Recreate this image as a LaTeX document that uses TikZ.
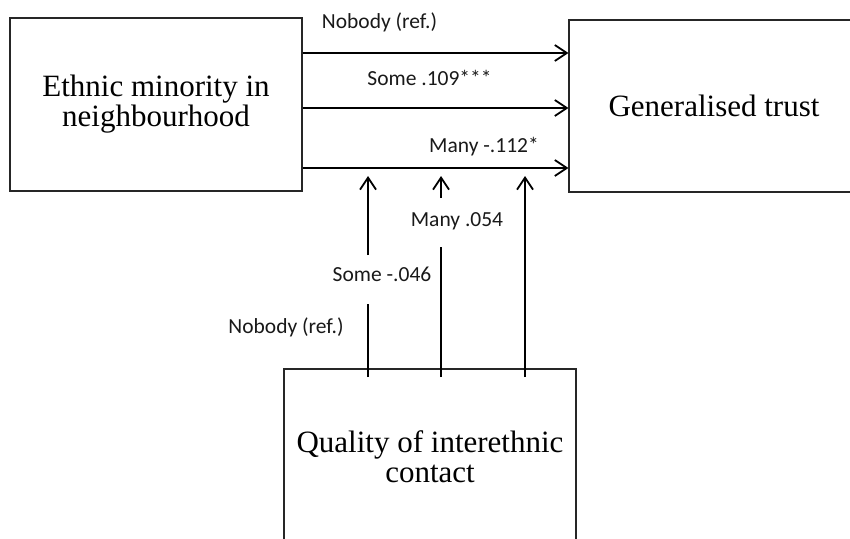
\documentclass[tikz,border=0pt]{standalone}
\usepackage{fontspec}
\setmainfont{Liberation Serif}
\newfontfamily\labfont{Carlito}
\usetikzlibrary{positioning,arrows.meta}

\begin{document}
\begin{tikzpicture}[x=1pt,y=-1pt,
  box/.style = {draw=black!85, line width=1.2pt, align=center, inner sep=0pt,
                font=\fontsize{31}{30}\selectfont},
  lbl/.style = {anchor=base, inner sep=0pt, text=black!90,
                font=\labfont\fontsize{21.5}{24}\selectfont},
  arr/.style = {line width=1.8pt, -{Straight Barb[length=12pt,width=16pt]}},
  seg/.style = {line width=1.8pt}]

  \useasboundingbox (0,0) rectangle (850,538);
  \clip (0,0) rectangle (850,538);

  % boxes
  \node[box, minimum width=292pt, minimum height=173pt] (eth)   at (156,104.5) {Ethnic minority in\\neighbourhood};
  \node[box, minimum width=290pt, minimum height=172pt] (trust) at (714,106)   {Generalised trust};
  \node[box, minimum width=292pt, minimum height=176pt] (qual)  at (430,457)   {Quality of interethnic\\contact};

  % direct effects
  \draw[arr] (eth.east |- 0,53)  -- (trust.west |- 0,53);
  \draw[arr] (eth.east |- 0,108) -- (trust.west |- 0,108);
  \draw[arr] (eth.east |- 0,168) -- (trust.west |- 0,168);

  \node[lbl] (nob1)  at (379.5,28.3) {Nobody (ref.)};
  \node[lbl] (some1) at (429.5,85)   {Some .109***};
  \node[lbl] (many1) at (484,152.7)  {Many -.112*};

  % moderation
  \coordinate (b1) at (368,377);  \coordinate (t1) at (368,176);
  \coordinate (b2) at (441,377);  \coordinate (t2) at (441,176);
  \coordinate (b3) at (525,377);  \coordinate (t3) at (525,176);
  \coordinate (g1a) at (368,304); \coordinate (g1b) at (368,255);
  \coordinate (g2a) at (441,247); \coordinate (g2b) at (441,198);

  \draw[seg] (b1) -- (g1a);
  \draw[arr] (g1b) -- (t1);
  \draw[seg] (b2) -- (g2a);
  \draw[arr] (g2b) -- (t2);
  \draw[arr] (b3) -- (t3);

  \node[lbl] (nob2)  at (286,333)   {Nobody (ref.)};
  \node[lbl] (some2) at (382,281.7) {Some -.046};
  \node[lbl] (many2) at (457,226)   {Many .054};
\end{tikzpicture}
\end{document}
